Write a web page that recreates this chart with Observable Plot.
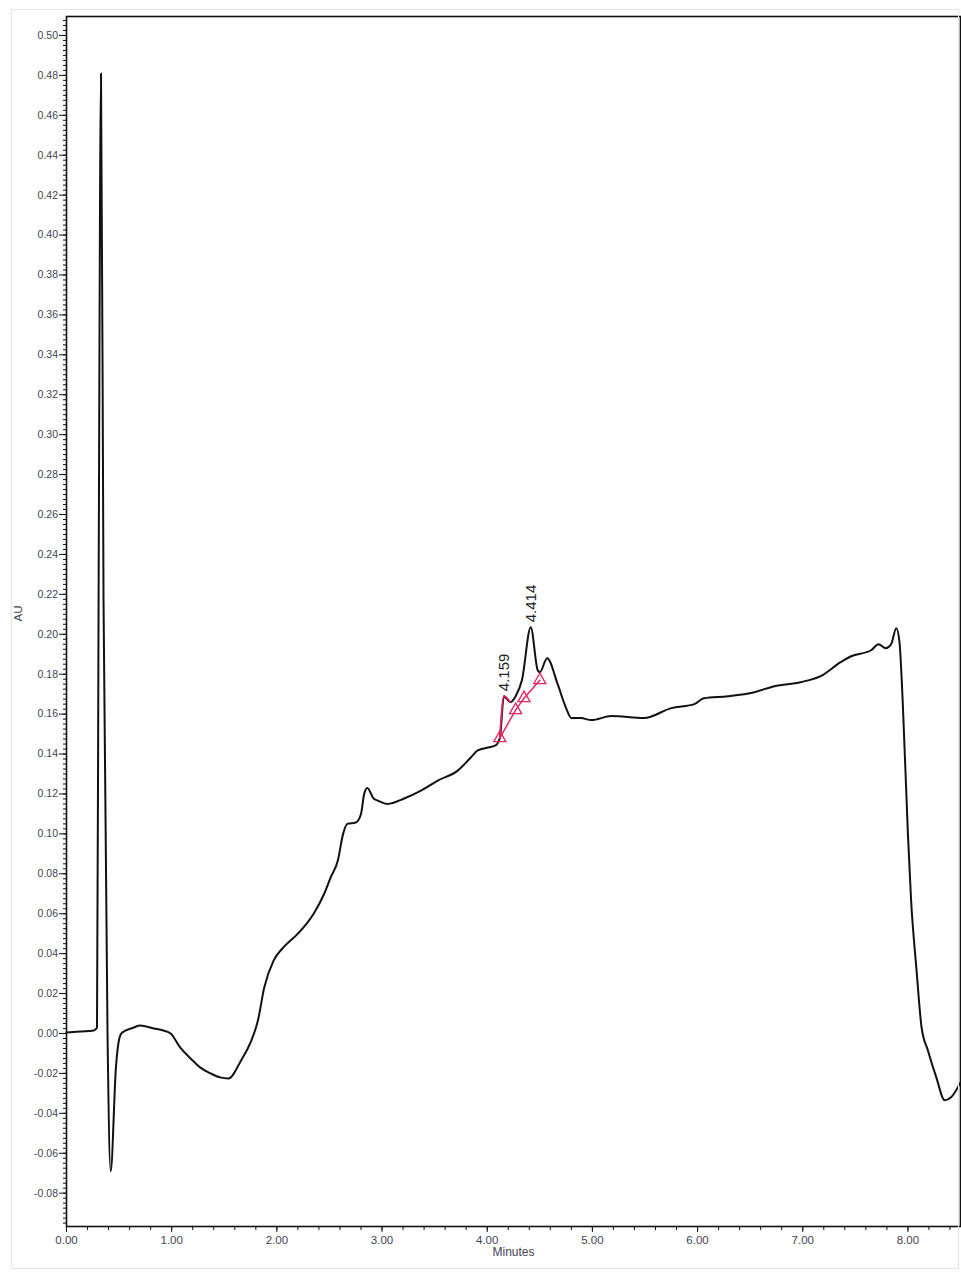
<!DOCTYPE html>
<html>
<head>
<meta charset="utf-8">
<script src="https://cdn.jsdelivr.net/npm/d3@7"></script>
<script src="https://cdn.jsdelivr.net/npm/@observablehq/plot@0.6"></script>
<style>
  html, body { margin: 0; padding: 0; background: #fff; }
  #wrap { position: relative; width: 961px; height: 1272px; }
  #border { position: absolute; left: 11px; top: 9px; width: 946px; height: 1258px; border: 1px solid #e4e4e4; pointer-events: none; }
</style>
</head>
<body>
<div id="wrap"><div id="border"></div></div>
<script>
// Chromatogram trace (minutes, AU)
const time = [0.00, 0.13, 0.26, 0.29, 0.305, 0.328, 0.352, 0.39, 0.42, 0.47, 0.50, 0.53, 0.64, 0.70, 0.83, 0.92, 0.99,
  1.08, 1.18, 1.27, 1.37, 1.46, 1.54, 1.66, 1.75, 1.82, 1.88, 1.97, 2.06, 2.20, 2.35, 2.45, 2.51, 2.58, 2.63, 2.67,
  2.75, 2.80, 2.83, 2.86, 2.92, 2.96, 3.05, 3.21, 3.37, 3.53, 3.72, 3.84, 3.91, 4.01, 4.08, 4.12, 4.159, 4.22, 4.27,
  4.33, 4.414, 4.48, 4.50, 4.57, 4.67, 4.75, 4.80, 4.89, 4.99, 5.18, 5.49, 5.75, 5.97, 6.06, 6.29, 6.54, 6.73, 6.98,
  7.17, 7.36, 7.46, 7.65, 7.72, 7.79, 7.84, 7.89, 7.92, 7.95, 8.00, 8.03, 8.08, 8.13, 8.19, 8.27, 8.35, 8.41, 8.50];
const absorbance = [0.0005, 0.001, 0.0015, 0.003, 0.217, 0.481, 0.217, 0.0, -0.069, -0.017, -0.003, 0.0005, 0.003, 0.004, 0.0025, 0.0015, 0.0,
  -0.007, -0.0125, -0.017, -0.020, -0.022, -0.0225, -0.0135, -0.0045, 0.0065, 0.023, 0.0366, 0.043, 0.050, 0.060, 0.070, 0.078, 0.0867, 0.100, 0.105,
  0.1057, 0.110, 0.120, 0.123, 0.1177, 0.1167, 0.115, 0.1177, 0.1217, 0.1267, 0.1317, 0.138, 0.1418, 0.1433, 0.1443, 0.148, 0.169, 0.166, 0.169,
  0.177, 0.2035, 0.182, 0.181, 0.188, 0.175, 0.163, 0.158, 0.158, 0.157, 0.159, 0.158, 0.163, 0.165, 0.168, 0.169, 0.171, 0.174, 0.176,
  0.179, 0.186, 0.189, 0.192, 0.195, 0.193, 0.195, 0.203, 0.196, 0.167, 0.100, 0.067, 0.033, 0.003, -0.0085, -0.022, -0.0335, -0.032, -0.0245];

// Integration markers (peak start / end triangles)
const markTime = [4.12, 4.27, 4.35, 4.50];
const markValue = [0.148, 0.162, 0.168, 0.177];

// Peak retention-time labels
const peakTime = [4.159, 4.414];
const peakValue = [0.169, 0.2035];
const peakLabel = ["4.159", "4.414"];

// Axis ticks
const xTicks = [0, 1, 2, 3, 4, 5, 6, 7, 8];
const xMinor = d3.range(0, 8.5, 0.2);
const yTicks = [-0.08, -0.06, -0.04, -0.02, 0.00, 0.02, 0.04, 0.06, 0.08, 0.10, 0.12, 0.14, 0.16, 0.18, 0.20, 0.22, 0.24,
  0.26, 0.28, 0.30, 0.32, 0.34, 0.36, 0.38, 0.40, 0.42, 0.44, 0.46, 0.48, 0.50];
const yMinor = d3.range(-0.095, 0.508, 0.0025);

const trace = time.map((t, i) => ({t, v: absorbance[i]}));
const marks = markTime.map((t, i) => ({t, v: markValue[i]}));
const peaks = peakTime.map((t, i) => ({t, v: peakValue[i], label: peakLabel[i]}));
const pink = "#e8245f";

const chart = Plot.plot({
  width: 961,
  height: 1272,
  marginLeft: 66,
  marginTop: 16,
  marginRight: 1,
  marginBottom: 46,
  x: {domain: [0, 8.5]},
  y: {domain: [-0.0967, 0.5095]},
  style: {fontFamily: "'Liberation Sans', Arial, sans-serif", fontSize: "10px", color: "#333", background: "transparent"},
  marks: [
    Plot.axisY(yMinor, {tickSize: 3, tickFormat: () => "", label: null, stroke: "#111"}),
    Plot.axisY(yTicks, {tickSize: 7, tickPadding: 1.5, tickFormat: d => d.toFixed(2), label: null, stroke: "#111", fill: "#445", fontSize: 10.5}),
    Plot.axisX(xMinor, {tickSize: 4, tickFormat: () => "", label: null, stroke: "#111"}),
    Plot.axisX(xTicks, {tickSize: 6, tickPadding: 3, tickFormat: d => d.toFixed(2), label: null, stroke: "#111", fill: "#445", fontSize: 11.5}),
    Plot.frame({stroke: "#111", strokeWidth: 1.6}),
    Plot.line(trace, {x: "t", y: "v", curve: "monotone-x", stroke: "#111", strokeWidth: 2, strokeLinejoin: "round"}),
    Plot.line(trace.filter(d => d.t >= 4.12 && d.t <= 4.22), {x: "t", y: "v", curve: "monotone-x", stroke: pink, strokeWidth: 1.7}),
    Plot.line(marks, {x: "t", y: "v", stroke: pink, strokeWidth: 1.5}),
    Plot.dot(marks, {x: "t", y: "v", symbol: "triangle", r: 4.5, stroke: pink, strokeWidth: 1.3, fill: "none"}),
    Plot.text(peaks, {x: "t", y: "v", text: "label", rotate: -90, textAnchor: "start", dy: -5, fontSize: 15, fill: "#222"}),
    Plot.text(["Minutes"], {frameAnchor: "bottom", dy: 29, fontSize: 12, fill: "#445"}),
    Plot.text(["AU"], {frameAnchor: "left", dx: -48, rotate: -90, fontSize: 11.5, fill: "#445"})
  ]
});
document.getElementById("wrap").prepend(chart);
chart.style.position = "absolute";
chart.style.left = "0";
chart.style.top = "0";
</script>
</body>
</html>
